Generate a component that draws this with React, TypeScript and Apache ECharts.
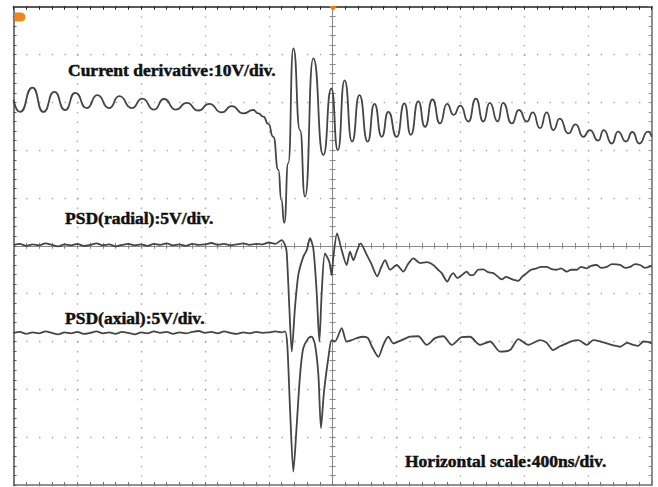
import React, { useEffect, useRef } from "react";
import * as echarts from "echarts";

// Time axis: ns relative to trigger (centre of screen), 400 ns/div
// Vertical axis: screen divisions (10 V/div for current derivative, 5 V/div for PSDs)
const timeTicks = { min: -2000, max: 2000, interval: 400 };
const divTicks = { min: -5, max: 5, interval: 1 };

const currentDerivative: [number, number][] = [
  [-2000, 3.05], [-1959, 2.8], [-1881, 3.31], [-1813, 2.8], [-1744, 3.22], [-1677, 2.84],
  [-1613, 3.2], [-1541, 2.88], [-1475, 3.15], [-1401, 2.88], [-1337, 3.13], [-1259, 2.88],
  [-1193, 3.08], [-1119, 2.85], [-1057, 3.07], [-983, 2.85], [-914, 2.99], [-842, 2.83],
  [-773, 2.97], [-695, 2.79], [-632, 2.92], [-560, 2.77], [-497, 2.84], [-466, 2.77],
  [-434, 2.7], [-403, 2.55], [-372, 2.28], [-340, 1.59], [-321, 0.96], [-303, 0.48],
  [-278, 1.73], [-246, 4.13], [-204, 2.42], [-173, 1.03], [-121, 3.92], [-58, 1.9],
  [-8, 3.29], [33, 2.0], [75, 3.46], [122, 2.18], [168, 3.15], [220, 2.18],
  [262, 2.97], [308, 2.28], [349, 2.8], [402, 2.28], [450, 2.98], [490, 2.32],
  [537, 3.02], [579, 2.49], [626, 3.06], [673, 2.56], [717, 2.97], [758, 2.74],
  [801, 2.93], [851, 2.6], [898, 3.08], [945, 2.6], [985, 2.99], [1035, 2.6],
  [1068, 2.99], [1123, 2.56], [1168, 2.84], [1217, 2.6], [1255, 2.79], [1300, 2.46],
  [1342, 2.79], [1383, 2.42], [1424, 2.66], [1477, 2.35], [1523, 2.54], [1571, 2.28],
  [1612, 2.42], [1665, 2.2], [1699, 2.42], [1750, 2.14], [1789, 2.39], [1839, 2.18],
  [1879, 2.38], [1922, 2.14], [1976, 2.39], [2000, 2.28],
];

const psdRadial: [number, number][] = [
  [-2000, 0.02], [-1960, 0.04], [-1920, 0.0], [-1880, 0.03], [-1840, 0.01], [-1800, 0.05],
  [-1760, 0.02], [-1720, -0.01], [-1680, 0.03], [-1640, 0.01], [-1600, 0.04], [-1560, 0.0],
  [-1520, 0.02], [-1480, 0.05], [-1440, 0.01], [-1400, 0.03], [-1360, -0.01], [-1320, 0.02],
  [-1280, 0.04], [-1240, 0.01], [-1200, 0.03], [-1160, 0.0], [-1120, 0.04], [-1080, 0.02],
  [-1040, 0.05], [-1000, 0.01], [-960, 0.03], [-920, 0.0], [-880, 0.04], [-840, 0.02],
  [-800, 0.03], [-760, 0.06], [-720, 0.02], [-680, 0.04], [-640, 0.01], [-600, 0.03],
  [-560, 0.05], [-520, 0.02], [-480, 0.04], [-440, 0.03], [-400, 0.07], [-360, 0.04],
  [-319, 0.12], [-300, 0.03], [-288, -0.12], [-271, -1.3], [-256, -2.21], [-236, -1.3],
  [-215, -0.61], [-184, -0.23], [-162, -0.09], [-142, 0.16], [-121, -0.05], [-100, -0.96],
  [-83, -2.0], [-68, -0.96], [-48, -0.16], [-21, -0.33], [-6, -0.61], [4, -0.26],
  [28, 0.26], [57, -0.09], [88, -0.4], [109, -0.12], [130, -0.3], [153, -0.1],
  [175, 0.05], [214, -0.19], [241, -0.36], [280, -0.64], [303, -0.46], [329, -0.3],
  [360, -0.5], [402, -0.4], [443, -0.54], [473, -0.38], [506, -0.26], [548, -0.36],
  [592, -0.34], [631, -0.4], [661, -0.5], [684, -0.57], [719, -0.75], [739, -0.63],
  [757, -0.57], [780, -0.67], [800, -0.64], [841, -0.54], [861, -0.61], [882, -0.61],
  [911, -0.5], [945, -0.49], [974, -0.55], [1007, -0.57], [1031, -0.63], [1060, -0.7],
  [1087, -0.65], [1112, -0.68], [1137, -0.71], [1164, -0.73], [1187, -0.65], [1217, -0.57],
  [1244, -0.5], [1279, -0.47], [1306, -0.44], [1342, -0.44], [1369, -0.48], [1405, -0.5],
  [1432, -0.47], [1467, -0.54], [1494, -0.5], [1530, -0.5], [1557, -0.44], [1593, -0.47],
  [1620, -0.42], [1655, -0.4], [1682, -0.46], [1718, -0.44], [1751, -0.38], [1802, -0.4],
  [1833, -0.46], [1864, -0.44], [1896, -0.38], [1927, -0.4], [1958, -0.46], [2000, -0.42],
];

const psdAxial: [number, number][] = [
  [-2000, -1.82], [-1960, -1.8], [-1920, -1.84], [-1880, -1.81], [-1840, -1.83], [-1800, -1.79],
  [-1760, -1.82], [-1720, -1.85], [-1680, -1.81], [-1640, -1.83], [-1600, -1.8], [-1560, -1.84],
  [-1520, -1.82], [-1480, -1.79], [-1440, -1.83], [-1400, -1.81], [-1360, -1.84], [-1320, -1.8],
  [-1280, -1.82], [-1240, -1.85], [-1200, -1.81], [-1160, -1.83], [-1120, -1.79], [-1080, -1.82],
  [-1040, -1.8], [-1000, -1.84], [-960, -1.81], [-920, -1.83], [-880, -1.8], [-840, -1.78],
  [-800, -1.82], [-760, -1.8], [-720, -1.83], [-680, -1.79], [-640, -1.82], [-600, -1.84],
  [-560, -1.81], [-520, -1.83], [-480, -1.8], [-440, -1.82], [-400, -1.81], [-360, -1.79],
  [-320, -1.81], [-298, -1.79], [-284, -2.07], [-267, -3.39], [-246, -4.72], [-225, -3.75],
  [-204, -2.7], [-184, -2.14], [-152, -1.93], [-131, -1.9], [-110, -2.07], [-89, -2.7],
  [-73, -3.81], [-54, -3.05], [-27, -2.35], [-6, -1.97], [15, -2.0], [57, -1.72],
  [88, -2.0], [120, -1.97], [151, -1.93], [193, -1.9], [222, -1.93], [247, -2.11],
  [287, -2.32], [318, -2.07], [349, -1.9], [381, -2.04], [433, -1.97], [485, -1.9],
  [537, -1.89], [590, -2.07], [642, -1.93], [694, -1.89], [747, -2.07], [809, -1.91],
  [861, -1.9], [924, -2.07], [987, -2.0], [1049, -2.21], [1112, -2.18], [1164, -1.95],
  [1227, -2.07], [1300, -1.97], [1340, -2.02], [1383, -2.18], [1425, -2.1], [1467, -2.04],
  [1500, -1.99], [1540, -1.97], [1593, -2.07], [1634, -1.97], [1680, -2.0], [1718, -2.04],
  [1760, -2.08], [1802, -2.11], [1845, -2.03], [1885, -2.07], [1915, -2.09], [1948, -2.0],
  [1975, -2.01], [2000, -2.04],
];

const traceLabels = [
  { text: "Current derivative:10V/div.", x: 68, y: 69.5 },
  { text: "PSD(radial):5V/div.", x: 65, y: 218 },
  { text: "PSD(axial):5V/div.", x: 65, y: 317.5 },
  { text: "Horizontal scale:400ns/div.", x: 405, y: 461 },
];

const GRID = { left: 13.5, right: 6.3, top: 6.7, bottom: 2 };
const W = 658;
const H = 487;
const gridW = W - GRID.left - GRID.right;
const gridH = H - GRID.top - GRID.bottom;
const minorX = gridW / 50;
const minorY = gridH / 50;

function makeAxis(dim: "x" | "y", position: string, opts: any) {
  const base = dim === "x" ? timeTicks : divTicks;
  return {
    type: "value",
    min: base.min,
    max: base.max,
    interval: base.interval,
    position,
    axisLabel: { show: false },
    splitLine: { show: false },
    axisLine: {
      show: true,
      onZero: !!opts.onZero,
      onZeroAxisIndex: 0,
      lineStyle: { color: opts.color, width: opts.width },
    },
    axisTick: { show: true, inside: !!opts.inside, length: opts.tick, lineStyle: { color: opts.color, width: 1 } },
    minorTick: { show: true, splitNumber: 5, length: opts.tick, lineStyle: { color: opts.color, width: 1 } },
    ...(opts.extra || {}),
  };
}

export default function App() {
  const ref = useRef<HTMLDivElement>(null);
  useEffect(() => {
    if (!ref.current) return;
    const chart = echarts.init(ref.current, null, { renderer: "svg" });
    const lineStyle = { color: "#454545", width: 1.8 };
    chart.setOption({
      animation: false,
      backgroundColor: "#ffffff",
      grid: { ...GRID, containLabel: false },
      xAxis: [
        makeAxis("x", "bottom", {
          onZero: true, color: "#8a8a8a", width: 1, tick: 3,
          extra: { splitLine: { show: true, lineStyle: { color: "#a8a8a8", width: 1.4, type: [1.4, minorY - 1.4] } } },
        }),
        makeAxis("x", "top", { onZero: true, color: "#8a8a8a", width: 1, tick: 3 }),
        makeAxis("x", "bottom", { onZero: false, inside: true, color: "#6e6e6e", width: 1.6, tick: 3 }),
        makeAxis("x", "top", { onZero: false, inside: true, color: "#222222", width: 1.6, tick: 3 }),
      ],
      yAxis: [
        makeAxis("y", "left", {
          onZero: true, color: "#8a8a8a", width: 1, tick: 3,
          extra: { splitLine: { show: true, lineStyle: { color: "#a8a8a8", width: 1.4, type: [1.4, minorX - 1.4] } } },
        }),
        makeAxis("y", "right", { onZero: true, color: "#8a8a8a", width: 1, tick: 3 }),
        makeAxis("y", "left", { onZero: false, inside: true, color: "#5a5a5a", width: 1.6, tick: 3 }),
        makeAxis("y", "right", { onZero: false, inside: true, color: "#8c8c8c", width: 2, tick: 3 }),
      ],
      series: [
        { name: "Current derivative", type: "line", data: currentDerivative, showSymbol: false, smooth: 0.6, smoothMonotone: "x", lineStyle, z: 5 },
        { name: "PSD(radial)", type: "line", data: psdRadial, showSymbol: false, smooth: 0.25, lineStyle, z: 5 },
        { name: "PSD(axial)", type: "line", data: psdAxial, showSymbol: false, smooth: 0.25, lineStyle, z: 5 },
      ],
      graphic: [
        ...traceLabels.map((l) => ({
          type: "text",
          x: l.x,
          y: l.y,
          z: 10,
          style: {
            text: l.text,
            fill: "#111111",
            stroke: "#111111",
            lineWidth: 0.5,
            font: 'bold 17.5px "Liberation Serif", "Times New Roman", serif',
            verticalAlign: "middle",
            align: "left",
          },
        })),
        {
          type: "rect",
          z: 10,
          shape: { x: 14.5, y: 12.5, width: 11, height: 9, r: [1, 4.5, 4.5, 1] },
          style: { fill: "#f0861f" },
        },
        {
          type: "polygon",
          z: 10,
          shape: { points: [[329, 6], [337, 6], [333, 11]] },
          style: { fill: "#ee7a12" },
        },
      ],
    });
    return () => chart.dispose();
  }, []);
  return (
    <div
      ref={ref}
      style={{ position: "absolute", left: 0, top: 0, width: W, height: H, background: "#fff" }}
    />
  );
}
